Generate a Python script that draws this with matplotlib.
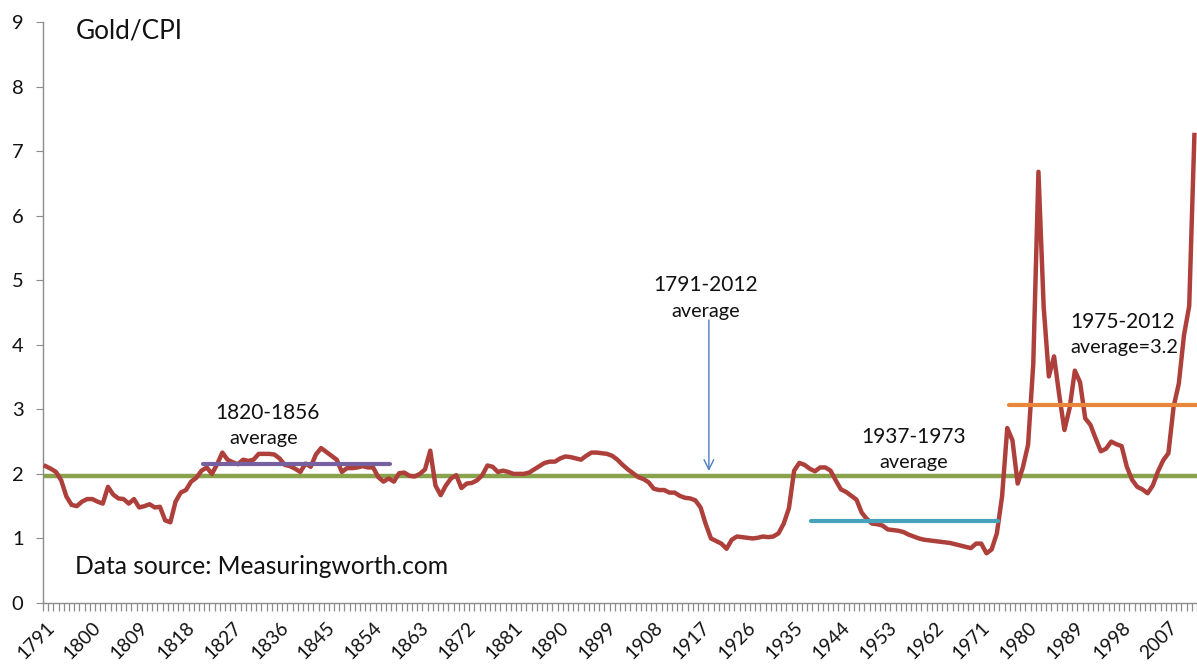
import matplotlib
matplotlib.use('Agg')
import matplotlib.pyplot as plt
import matplotlib.transforms as mtransforms
import numpy as np

plt.rcParams['font.family'] = ['Lato', 'DejaVu Sans']

# ---------------- data ----------------
start_year = 1791
end_year = 2012
years = list(range(start_year, end_year + 1))

gold_cpi = [
    2.12, 2.08, 2.03, 1.90, 1.65, 1.52, 1.50, 1.57, 1.61, 1.61,
    1.57, 1.54, 1.80, 1.68, 1.62, 1.61, 1.54, 1.61, 1.48, 1.50,
    1.53, 1.48, 1.49, 1.28, 1.25, 1.57, 1.71, 1.75, 1.88, 1.94,
    2.05, 2.10, 2.00, 2.15, 2.33, 2.22, 2.18, 2.15, 2.22, 2.20,
    2.22, 2.31, 2.31, 2.31, 2.30, 2.24, 2.14, 2.12, 2.08, 2.03,
    2.16, 2.11, 2.30, 2.40, 2.34, 2.28, 2.22, 2.03, 2.09, 2.09,
    2.10, 2.12, 2.10, 2.10, 1.95, 1.88, 1.93, 1.88, 2.01, 2.02,
    1.97, 1.96, 2.00, 2.07, 2.36, 1.82, 1.67, 1.82, 1.93, 1.98,
    1.78, 1.85, 1.86, 1.90, 1.98, 2.13, 2.11, 2.03, 2.05, 2.03,
    2.00, 2.00, 2.00, 2.02, 2.07, 2.12, 2.17, 2.19, 2.19, 2.24,
    2.27, 2.26, 2.24, 2.22, 2.28, 2.33, 2.33, 2.32, 2.31, 2.28,
    2.22, 2.14, 2.07, 2.01, 1.95, 1.92, 1.87, 1.77, 1.75, 1.75,
    1.71, 1.71, 1.66, 1.63, 1.62, 1.59, 1.48, 1.22, 1.00, 0.96,
    0.92, 0.84, 0.98, 1.03, 1.02, 1.01, 1.00, 1.01, 1.03, 1.02,
    1.03, 1.08, 1.23, 1.47, 2.05, 2.17, 2.14, 2.08, 2.04, 2.10,
    2.10, 2.05, 1.90, 1.76, 1.72, 1.66, 1.60, 1.40, 1.30, 1.23,
    1.22, 1.20, 1.14, 1.13, 1.12, 1.10, 1.06, 1.03, 1.00, 0.98,
    0.97, 0.96, 0.95, 0.94, 0.93, 0.91, 0.89, 0.87, 0.85, 0.92,
    0.92, 0.77, 0.83, 1.08, 1.65, 2.71, 2.52, 1.85, 2.10, 2.45,
    3.70, 6.68, 4.59, 3.51, 3.82, 3.22, 2.68, 3.02, 3.60, 3.42,
    2.86, 2.76, 2.55, 2.35, 2.39, 2.50, 2.46, 2.43, 2.11, 1.91,
    1.80, 1.76, 1.70, 1.82, 2.04, 2.21, 2.32, 3.04, 3.40, 4.15,
    4.60, 7.25,
]

label_years = list(range(1791, 2012, 9))
y_ticks = list(range(0, 10))

overall_avg = 1.97
period_starts = [1820, 1937, 1975]
period_ends = [1856, 1973, 2012]
period_avgs = [2.16, 1.27, 3.07]

# ---------------- styling ----------------
red = '#AE403C'
green = '#88A34B'
period_colors = ['#7660A0', '#47A3BC', '#E8873A']
axis_gray = '#8C8C8C'
txt = '#111111'
seg_offset = 1.3

fig = plt.figure(figsize=(11.97, 6.66), dpi=100)
ax = fig.add_axes([43 / 1197, 63 / 666, 1154 / 1197, 581 / 666])

x = np.arange(len(years))
ax.plot(x, gold_cpi, color=red, lw=3.2, solid_joinstyle='round', zorder=3)

ax.axhline(overall_avg, color=green, lw=3.2, zorder=2)
for s, e, v, c in zip(period_starts, period_ends, period_avgs, period_colors):
    ax.plot([s - start_year + seg_offset, e - start_year + seg_offset], [v, v],
            color=c, lw=3.0, solid_capstyle='round', zorder=4)

ax.set_xlim(-0.5, len(years) - 0.5)
ax.set_ylim(0, 9)

for side in ['top', 'right']:
    ax.spines[side].set_visible(False)
for side in ['left', 'bottom']:
    ax.spines[side].set_color(axis_gray)
    ax.spines[side].set_linewidth(1.0)

ax.set_yticks(y_ticks)
ax.set_yticklabels([str(v) for v in y_ticks])
ax.tick_params(axis='y', length=5, color=axis_gray, pad=9, labelsize=14.5, labelcolor=txt)

ax.set_xticks([yr - start_year for yr in label_years])
ax.set_xticklabels([str(yr) for yr in label_years], rotation=45, ha='right',
                   va='center', rotation_mode='anchor')
ax.tick_params(axis='x', which='major', length=0, pad=15.5, labelsize=13.8, labelcolor=txt)
shift = mtransforms.ScaledTranslation(6 / 100, 0, fig.dpi_scale_trans)
for lab in ax.get_xticklabels():
    lab.set_transform(lab.get_transform() + shift)
ax.set_xticks(np.arange(-0.5, len(years), 1.0), minor=True)
ax.tick_params(axis='x', which='minor', length=6, color=axis_gray, width=0.9)

# ---------------- annotations ----------------
ax.text(0.028, 0.985, 'Gold/CPI', transform=ax.transAxes, fontsize=18.8, color=txt,
        ha='left', va='center')
ax.text(0.028, 0.063, 'Data source: Measuringworth.com', transform=ax.transAxes,
        fontsize=17.7, color=txt, ha='left', va='center')

ax.text(1833.6 - start_year, (603 - 413) / 64.55, '1820-1856', fontsize=15, color=txt,
        ha='center', va='center')
ax.text(1833.0 - start_year, (603 - 439) / 64.55, 'average', fontsize=14.3, color=txt,
        ha='center', va='center')

ax.text(1918.0 - start_year, (603 - 285) / 64.55, '1791-2012', fontsize=15, color=txt,
        ha='center', va='center')
ax.text(1918.0 - start_year, (603 - 312) / 64.55, 'average', fontsize=14.3, color=txt,
        ha='center', va='center')
ax.annotate('', xy=(1918.6 - start_year, (603 - 471) / 64.55),
            xytext=(1918.6 - start_year, (603 - 320) / 64.55),
            arrowprops=dict(arrowstyle='->,head_length=0.7,head_width=0.35',
                            color='#4A7EC0', lw=1.0, shrinkA=0, shrinkB=0))

ax.text(1958.0 - start_year, (603 - 437) / 64.55, '1937-1973', fontsize=15, color=txt,
        ha='center', va='center')
ax.text(1958.0 - start_year, (603 - 463) / 64.55, 'average', fontsize=14.3, color=txt,
        ha='center', va='center')

ax.text(1998.1 - start_year, (603 - 322) / 64.55, '1975-2012', fontsize=15, color=txt,
        ha='center', va='center')
ax.text(1998.5 - start_year, (603 - 348) / 64.55, 'average=3.2', fontsize=14.3, color=txt,
        ha='center', va='center')

fig.savefig('out.png', dpi=100)
